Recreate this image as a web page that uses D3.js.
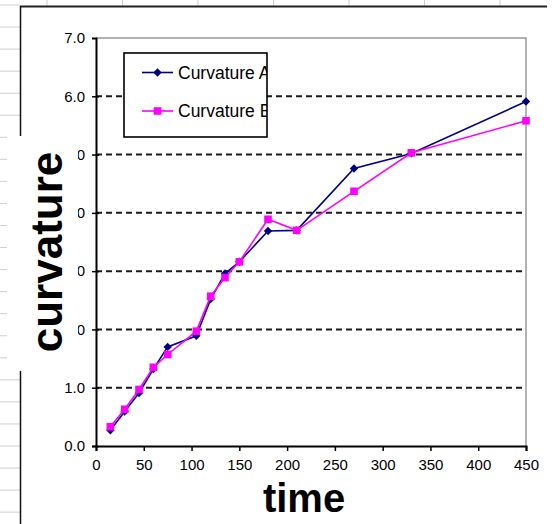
<!DOCTYPE html>
<meta charset="utf-8">
<script src="https://d3js.org/d3.v7.min.js"></script>
<style>
  body { margin: 0; background: #fff; }
  text { font-family: "Liberation Sans", Arial, sans-serif; }
</style>
<div id="my_dataviz"></div>
<script>
// data
const times = [15, 30, 45, 60, 75, 105, 120, 135, 150, 180, 210, 270, 330, 450];
const curvatureA = [0.27, 0.59, 0.91, 1.32, 1.70, 1.89, 2.52, 2.96, 3.16, 3.69, 3.70, 4.76, 5.02, 5.91];
const curvatureB = [0.33, 0.63, 0.97, 1.35, 1.57, 1.97, 2.57, 2.89, 3.16, 3.89, 3.70, 4.37, 5.03, 5.58];
const seriesNames = ["Curvature A", "Curvature B"];
const xTicks = [0, 50, 100, 150, 200, 250, 300, 350, 400, 450];
const yTicks = [0, 1, 2, 3, 4, 5, 6, 7];

const W = 552, H = 524;
const svg = d3.select("#my_dataviz").append("svg")
    .attr("width", W).attr("height", H);

// spreadsheet cells behind the chart object
const colLines = [47, 122.5, 198, 273.5, 349, 424.5, 500];
svg.selectAll(".col").data(colLines).join("line")
    .attr("x1", d => d).attr("x2", d => d).attr("y1", 0).attr("y2", 6)
    .attr("stroke", "#cfcfcf");
svg.selectAll(".row").data(d3.range(0, 24)).join("line")
    .attr("x1", 0).attr("x2", 20)
    .attr("y1", d => 5 + d * 22.05).attr("y2", d => 5 + d * 22.05)
    .attr("stroke", "#cfcfcf");

// chart object frame
svg.append("line").attr("x1", 20).attr("x2", 547).attr("y1", 6.5).attr("y2", 6.5)
    .attr("stroke", "#222").attr("stroke-width", 2);
svg.append("line").attr("x1", 20.5).attr("x2", 20.5).attr("y1", 6).attr("y2", H)
    .attr("stroke", "#111").attr("stroke-width", 1.5);

// scales
const x = d3.scaleLinear().domain([0, 450]).range([96, 526]);
const y = d3.scaleLinear().domain([0, 7]).range([446, 38]);

// plot area border (grey top and right)
svg.append("path")
    .attr("d", `M${x(0)},${y(7)}H${x(450)}V${y(0)}`)
    .attr("fill", "none").attr("stroke", "#9a9a9a").attr("stroke-width", 1.5);

// dashed gridlines
svg.selectAll(".grid").data(yTicks.filter(d => d > 0 && d < 7)).join("line")
    .attr("x1", x(0)).attr("x2", x(450))
    .attr("y1", d => y(d)).attr("y2", d => y(d))
    .attr("stroke", "#1a1a1a").attr("stroke-width", 2)
    .attr("stroke-dasharray", "6,4");

// axes
const xAxis = svg.append("g")
    .attr("transform", `translate(0,${y(0)})`)
    .call(d3.axisBottom(x).tickValues(xTicks).tickSize(5).tickPadding(8).tickFormat(d3.format("d")));
const yAxis = svg.append("g")
    .attr("transform", `translate(${x(0)},0)`)
    .call(d3.axisLeft(y).tickValues(yTicks).tickSize(4).tickPadding(7).tickFormat(d3.format(".1f")));
[xAxis, yAxis].forEach(g => {
  g.select(".domain").attr("stroke", "#000").attr("stroke-width", 2);
  g.selectAll(".tick line").attr("stroke", "#000").attr("stroke-width", 1.5);
  g.selectAll("text").attr("font-size", 15).attr("fill", "#000")
      .attr("font-family", "Liberation Sans, Arial, sans-serif");
});
yAxis.selectAll(".tick line").attr("x2", 3).attr("x1", -4);
yAxis.select(".tick:last-of-type line").remove();

// series
const dataA = times.map((t, i) => ({t, v: curvatureA[i]}));
const dataB = times.map((t, i) => ({t, v: curvatureB[i]}));
const line = d3.line().x(d => x(d.t)).y(d => y(d.v));
const diamond = "M0,-4.2L4.2,0L0,4.2L-4.2,0Z";

svg.append("path").datum(dataA).attr("d", line)
    .attr("fill", "none").attr("stroke", "#000080").attr("stroke-width", 1.6);
svg.selectAll(".mA").data(dataA).join("path")
    .attr("d", diamond)
    .attr("transform", d => `translate(${x(d.t)},${y(d.v)})`)
    .attr("fill", "#000080");

svg.append("path").datum(dataB).attr("d", line)
    .attr("fill", "none").attr("stroke", "#ff00ff").attr("stroke-width", 1.6);
svg.selectAll(".mB").data(dataB).join("rect")
    .attr("x", d => x(d.t) - 3.8).attr("y", d => y(d.v) - 3.8)
    .attr("width", 7.6).attr("height", 7.6)
    .attr("fill", "#ff00ff");

// legend (text runs past the box edge and gets cut, like the original)
const lg = {x: 124, y: 53, w: 143, h: 84};
svg.append("clipPath").attr("id", "lgclip").append("rect")
    .attr("x", lg.x).attr("y", lg.y).attr("width", lg.w).attr("height", lg.h);
svg.append("rect").attr("x", lg.x).attr("y", lg.y).attr("width", lg.w).attr("height", lg.h)
    .attr("fill", "#fff");
const legendRows = [
  {name: seriesNames[0], color: "#000080", ly: 72.5},
  {name: seriesNames[1], color: "#ff00ff", ly: 111}
];
legendRows.forEach((r, i) => {
  svg.append("line").attr("x1", 142).attr("x2", 173).attr("y1", r.ly).attr("y2", r.ly)
      .attr("stroke", r.color).attr("stroke-width", 1.6);
  if (i === 0) {
    svg.append("path").attr("d", diamond).attr("transform", `translate(157.5,${r.ly})`)
        .attr("fill", r.color);
  } else {
    svg.append("rect").attr("x", 157.5 - 3.8).attr("y", r.ly - 3.8)
        .attr("width", 7.6).attr("height", 7.6).attr("fill", r.color);
  }
  svg.append("text").attr("x", 178).attr("y", r.ly + 6.3)
      .attr("clip-path", "url(#lgclip)")
      .attr("font-size", 17.5).text(r.name);
});
svg.append("rect").attr("x", lg.x).attr("y", lg.y).attr("width", lg.w).attr("height", lg.h)
    .attr("fill", "none").attr("stroke", "#000").attr("stroke-width", 1.6);

// text box for the y title, sitting on top of the chart
svg.append("rect").attr("x", 7).attr("y", 136).attr("width", 71).attr("height", 235)
    .attr("fill", "#fff");
svg.append("text")
    .attr("transform", "translate(62,252) rotate(-90)")
    .attr("text-anchor", "middle")
    .attr("font-size", 44).attr("font-weight", "bold")
    .text("curvature");

// x title
svg.append("text")
    .attr("x", 304).attr("y", 512)
    .attr("text-anchor", "middle")
    .attr("font-size", 40).attr("font-weight", "bold")
    .text("time");
</script>
